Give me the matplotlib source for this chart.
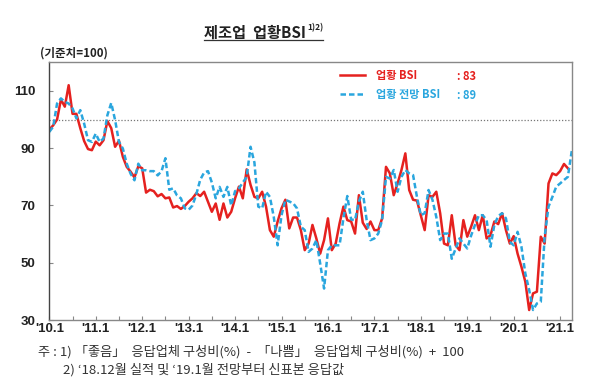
import numpy as np
import matplotlib
matplotlib.use('Agg')
import matplotlib.pyplot as plt
from matplotlib.lines import Line2D

plt.rcParams['font.family'] = ['Noto Sans CJK KR', 'DejaVu Sans']

# 업황 BSI (실적), 2010.1 ~ 2021.3
bsi = [96.5, 98, 100, 107, 104.5, 112, 102, 102, 97, 92.5, 89.7, 89.3,
       92.3, 91, 92.8, 99.5, 97, 90.5, 92.6, 87, 83.5, 81.8, 79.8, 83.7,
       83, 74.5, 75.5, 75, 73.2, 74, 72.5, 72.8, 69.3, 69.8, 68.8, 69.8,
       71.3, 72.5, 74.3, 73.3, 74.8, 71.3, 67.8, 70.7, 65, 70.7, 65.8, 67.8,
       72.5, 76.6, 72.5, 82.6, 77.2, 73, 72.5, 74.8, 69.6, 61.4, 59.1, 64.4,
       69, 72, 62, 65.8, 65.8, 61.4, 54.4, 56.7, 63.2, 58.5, 53.2, 57.9,
       65.5, 54.4, 56.7, 63.7, 69.6, 64.9, 64.4, 60.2, 73.6, 64, 61.8, 64.4,
       61.4, 61.4, 65.5, 83.5, 81.2, 73.6, 77.7, 82.4, 88.2, 75.4, 72, 71.7,
       66.6, 61.4, 73.6, 73, 74.8, 67.3, 56.7, 56.1, 66.6, 56.1, 54.4, 64.9,
       59.1, 62.6, 66.6, 61.4, 66.6, 58.5, 59.6, 64.4, 63.5, 67.3, 61.4, 56.7,
       59.3, 53.2, 48.6, 43.4, 33.5, 39.3, 39.9, 59.1, 56.7, 77.7, 81.2, 80.6,
       82, 84.5, 83]

# 업황 전망 BSI, 2010.1 ~ 2021.4
outlook = [95.7, 97.5, 105.6, 107.4, 106.2, 105.6, 103.9, 100.4, 103.3, 98.6, 92.8, 92.2,
           95.1, 92.2, 93.4, 101.5, 105.8, 99.8, 92.2, 89.9, 84.6, 81.1, 78.8, 84.6,
           82.3, 82.3, 82, 82, 80.5, 82, 86.5, 75.5, 76, 73.5, 72.5, 69,
           68.5, 70, 74, 79, 81.5, 82, 78, 72.5, 76.5, 73, 76.5, 70,
           75, 76, 78, 80, 90.5, 85, 69.6, 69, 74.8, 73, 66, 56.1,
           66.6, 72, 71.4, 70.8, 69, 62.6, 61.4, 53.8, 55, 57.9, 49.7, 41,
           54.4, 56.1, 56.1, 56.1, 65.5, 73.3, 65.1, 64.9, 71.4, 74.8, 64.9, 57.9,
           58.5, 60.2, 64.9, 80, 79.4, 82.4, 74.8, 80, 82.4, 81.2, 80.6, 73,
           66.6, 67.3, 75.4, 72, 66, 57.9, 60.2, 60.2, 51.4, 55, 58.5, 56.7,
           55, 59.5, 63.2, 66.6, 66.6, 64.9, 55.6, 63.2, 66.3, 67.3, 65.5, 57.3,
           56.1, 60.8, 55.6, 46.3, 40.5, 33.5, 35.8, 36.4, 59.1, 69.6, 73, 76.6,
           77.7, 78.9, 80, 89]

years = list(range(10, 22))
year_labels = ["'%d.1" % y for y in years]

red = '#e5211f'
blue = '#2aa6de'

fig = plt.figure(figsize=(6, 3.81), dpi=100)
ax = fig.add_axes([0.0822, 0.160, 0.8707, 0.6765])

ax.plot(np.arange(len(bsi)), bsi, color=red, lw=1.8, solid_joinstyle='round')
ax.plot(np.arange(len(outlook)), outlook, color=blue, lw=1.8, dashes=(2.2, 1.2))
ax.axhline(100, color='#777777', lw=0.9, ls=(0, (1, 1.5)), zorder=0)

ax.set_xlim(0, len(outlook) - 1)
ax.set_ylim(30, 120)
ax.set_xticks(np.arange(0, 12 * len(years), 12))
ax.set_xticklabels(year_labels)
ax.set_xticks(np.arange(6, len(outlook), 12), minor=True)
ax.set_yticks([30, 50, 70, 90, 110])
ax.tick_params(axis='both', which='both', direction='in', length=3, color='#888888', width=0.8)
ax.tick_params(axis='x', pad=2)
ax.tick_params(axis='y', pad=10)
for lab in ax.get_xticklabels() + ax.get_yticklabels():
    lab.set_fontfamily(['Liberation Sans', 'DejaVu Sans'])
    lab.set_fontweight('bold')
    lab.set_fontsize(9.5)
    lab.set_color('#222222')
for s in ax.spines.values():
    s.set_color('#888888')
    s.set_linewidth(1.0)
ax.spines['left'].set_color('#444444')

# legend
handles = [Line2D([], [], color=red, lw=1.8),
           Line2D([], [], color=blue, lw=1.8, dashes=(2.2, 1.2))]
leg = ax.legend(handles, ['업황 BSI', '업황 전망 BSI'], loc='upper left',
                bbox_to_anchor=(0.556, 0.975), frameon=False, borderpad=0,
                borderaxespad=0, handlelength=2.3, handletextpad=1.0,
                labelspacing=0.55, prop={'size': 8, 'weight': 'bold'})
for t, c in zip(leg.get_texts(), [red, blue]):
    t.set_color(c)
ax.text(0.780, 0.943, ': %d' % round(bsi[-1]), transform=ax.transAxes, color=red,
        fontsize=8, fontweight='bold', va='center')
ax.text(0.780, 0.873, ': %d' % round(outlook[-1]), transform=ax.transAxes, color=blue,
        fontsize=8, fontweight='bold', va='center')

# title
fig.text(306 / 600, 1 - 33 / 381, '제조업  업황BSI', ha='right', va='center',
         fontsize=11, fontweight='bold', color='#222222')
fig.text(307 / 600, 1 - 28 / 381, '1)2)', ha='left', va='center',
         fontsize=6, fontweight='bold', color='#222222')
fig.add_artist(Line2D([204 / 600, 323 / 600], [1 - 40 / 381, 1 - 40 / 381],
                      color='#333333', lw=0.9))
fig.text(40 / 600, 1 - 53 / 381, '(기준치=100)', ha='left', va='center',
         fontsize=8.3, fontweight='bold', color='#222222')

# notes
fig.text(38 / 600, 1 - 352 / 381,
         '주 : 1) 「좋음」  응답업체 구성비(%)  -  「나쁨」  응답업체 구성비(%)  +  100',
         ha='left', va='center', fontsize=9.5, color='#333333')
fig.text(63 / 600, 1 - 370 / 381, "2) ‘18.12월 실적 및 ‘19.1월 전망부터 신표본 응답값",
         ha='left', va='center', fontsize=9.5, color='#333333')

fig.savefig('out.png', dpi=100)
